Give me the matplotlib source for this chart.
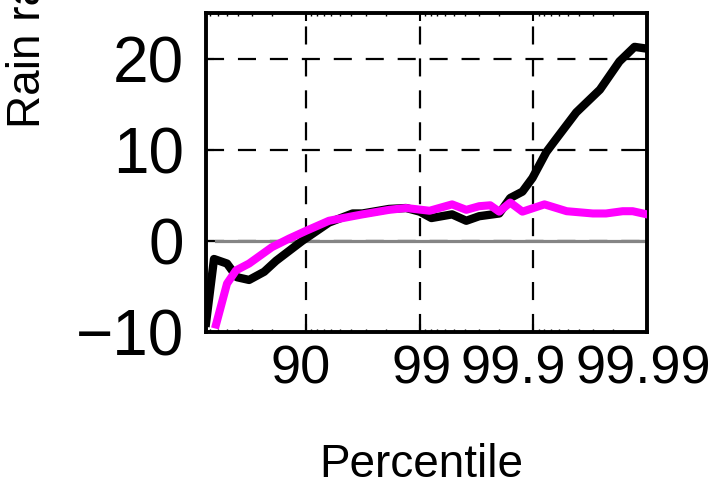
import numpy as np
import matplotlib
matplotlib.use('Agg')
import matplotlib.pyplot as plt
import matplotlib.transforms as mtransforms

plt.rcParams['font.family'] = ['Liberation Sans', 'DejaVu Sans']
plt.rcParams['lines.scale_dashes'] = False

# percentile values and rain rate change
black_pct = [24.0, 35.3, 50.3, 59.4, 68.2, 76.6, 81.6, 85.9, 89.2, 93.7, 96.1, 96.8,
             98.14, 98.68, 99.0, 99.21, 99.48, 99.61, 99.70, 99.80, 99.84, 99.875,
             99.898, 99.923, 99.937, 99.958, 99.974, 99.9825, 99.9871, 99.99]
black_val = [-9.0, -2.0, -2.5, -4.0, -4.3, -3.4, -2.2, -1.1, 0.0, 2.0, 3.0, 3.0,
             3.5, 3.6, 3.2, 2.5, 2.9, 2.2, 2.7, 3.0, 4.7, 5.4,
             6.9, 9.75, 11.2, 14.1, 16.6, 19.7, 21.3, 21.1]

magenta_pct = [37.9, 50.3, 58.6, 68.2, 80.0, 85.9, 90.0, 93.7, 96.1, 96.8, 98.14, 98.68,
               99.18, 99.48, 99.61, 99.70, 99.76, 99.80, 99.84, 99.875, 99.92, 99.949,
               99.970, 99.977, 99.9836, 99.9866, 99.99]
magenta_val = [-9.2, -4.7, -3.25, -2.5, -0.7, 0.25, 1.1, 2.2, 2.7, 2.9, 3.4, 3.6,
               3.3, 4.0, 3.4, 3.8, 3.9, 3.2, 4.2, 3.2, 4.0, 3.25,
               3.0, 3.0, 3.25, 3.25, 2.9]

xtick_pct = [90, 99, 99.9, 99.99]
xtick_labels = ['90', '99', '99.9', '99.99']
ytick_vals = [-10, 0, 10, 20]
ytick_labels = ['\u221210', '0', '10', '20']


def exceed(p):
    # plot against 1 - p on a reversed log axis
    return 1.0 - np.asarray(p, dtype=float) / 100.0


fig = plt.figure(figsize=(7.23, 4.88), dpi=100)
ax = fig.add_axes([0.285, 0.320, 0.610, 0.653])

ax.plot(exceed([magenta_pct[0], magenta_pct[-1]]), [0, 0], color='#858585', lw=2.3, zorder=2)
ax.plot(exceed(black_pct), black_val, color='black', lw=6.0, zorder=3)
ax.plot(exceed(magenta_pct), magenta_val, color='#ff00ff', lw=5.8, zorder=4)

ax.set_xscale('log')
ax.set_xlim(exceed(24.0), exceed(99.99))
ax.set_ylim(-10, 25)
ax.set_xticks(exceed(xtick_pct))
ax.set_xticklabels(xtick_labels, fontsize=39)
ax.set_yticks(ytick_vals)
ax.set_yticklabels(ytick_labels, fontsize=46)

ax.grid(True, which='major', color='black', lw=1.6, linestyle=(0, (13, 10)))
ax.tick_params(which='both', direction='in', top=True, right=True)
ax.tick_params(which='major', length=6, width=1.5)
ax.tick_params(which='minor', length=2.5, width=1)
ax.tick_params(axis='x', which='major', pad=9)
ax.tick_params(axis='y', which='major', pad=16)
for s in ax.spines.values():
    s.set_linewidth(2.8)

# x tick labels sit a little off their ticks in the original
offsets = [-5.5, 2, -20, -4]
for lab, dx in zip(ax.get_xticklabels(), offsets):
    lab.set_transform(lab.get_transform() + mtransforms.ScaledTranslation(dx / 100.0, 0, fig.dpi_scale_trans))

fig.text(421 / 723, 1 - 477 / 488, 'Percentile', ha='center', va='baseline', fontsize=33)
fig.text(0.008, 0.738, 'Rain rate change (%/K)', rotation=90, ha='left', va='bottom', fontsize=33)

fig.savefig('out.png', dpi=100)
